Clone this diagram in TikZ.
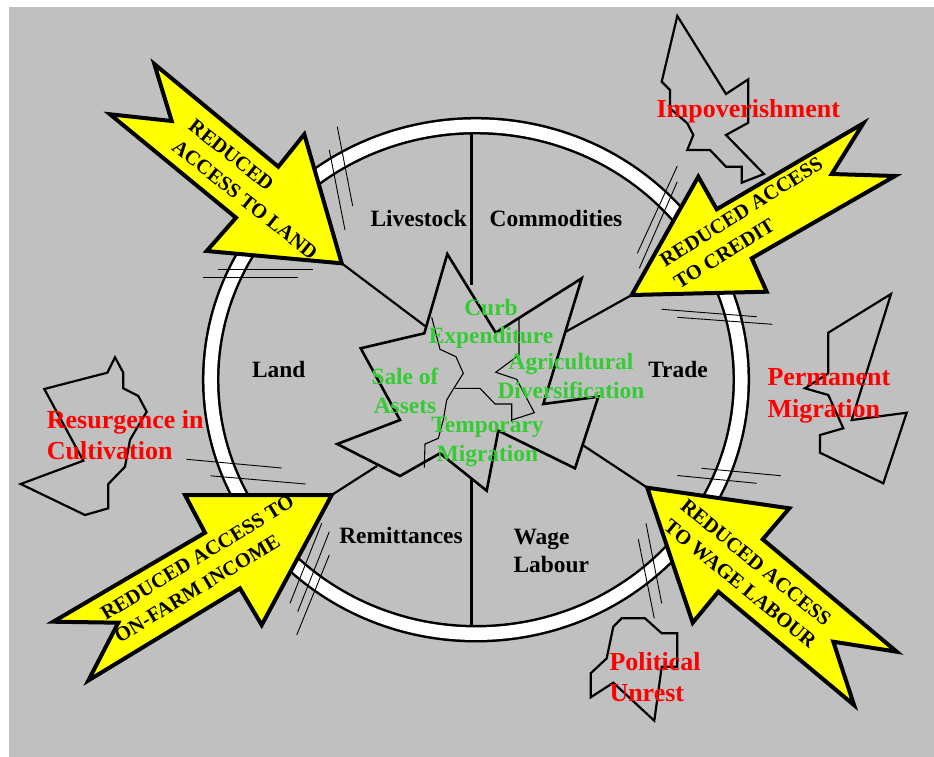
\documentclass[tikz,border=0pt]{standalone}
\usepackage{fontspec}
\setmainfont{Liberation Serif}
\definecolor{bg}{RGB}{192,192,192}
\definecolor{gtext}{RGB}{51,204,51}
\definecolor{ared}{RGB}{255,0,0}
\definecolor{ayellow}{RGB}{255,255,0}
\tikzset{
  ringblack/.style={draw=black, line width=17.5pt},
  ringwhite/.style={draw=white, line width=12.5pt},
  divider/.style={draw=black, line width=2.6pt},
  connector/.style={draw=black, line width=2.2pt},
  starline/.style={draw=black, line width=2.6pt, line join=miter, miter limit=8},
  innerline/.style={draw=black, line width=1.1pt},
  blob/.style={draw=black, line width=2.2pt, line join=miter},
  tickline/.style={draw=black, line width=0.9pt},
  bigarrow/.style={draw=black, fill=ayellow, line width=4pt, line join=miter, miter limit=6},
  lbl/.style={font=\fontsize{23.4}{28}\selectfont\bfseries, inner sep=0pt, text=black},
  greenlbl/.style={font=\fontsize{23.4}{28.5}\selectfont\bfseries, inner sep=0pt, text=gtext, align=center},
  redlbl/.style={font=\fontsize{26}{31.5}\selectfont\bfseries, inner sep=0pt, text=ared, align=left, anchor=west},
  arrowtxt/.style={font=\fontsize{20.5}{26.5}\selectfont\bfseries, inner sep=0pt, text=black, align=left},
}
\begin{document}
\begin{tikzpicture}[x=1pt,y=-1pt]
\useasboundingbox (0,0) rectangle (934,756);
\fill[white] (-5,-5) rectangle (945,765);
\fill[bg] (9,7) rectangle (945,765);

% ring
\coordinate (ringc) at (476,379.7);
\draw[ringblack] (ringc) ellipse [x radius=265.3, y radius=254];
\draw[ringwhite] (ringc) ellipse [x radius=265.3, y radius=254];

% dividers
\coordinate (dtA) at (471.7,133);
\coordinate (dtB) at (471.7,285);
\coordinate (dbA) at (471.7,473);
\coordinate (dbB) at (471.7,626);
\draw[divider] (dtA) -- (dtB);
\draw[divider] (dbA) -- (dbB);

% central star
\draw[starline, fill=bg] (447.3,254) -- (495.7,332.7) -- (581.7,278.3) -- (543.3,404)
  -- (598.3,396.7) -- (575,468.3) -- (498.3,430.7) -- (486.7,490.7) -- (440,453.3)
  -- (400,476) -- (337.3,444) -- (400,420) -- (360.7,348.3) -- (424.3,333.3) -- cycle;
\draw[innerline] (431.7,317.3) -- (440,349.3) -- (456,356.7) -- (463.3,373.3) -- (451.7,391.7)
  -- (446.7,400) -- (443.3,420) -- (438.3,438.3) -- (425,444) -- (424.3,467.7);
\draw[innerline] (455,388.3) -- (480,388.3) -- (495,404) -- (511.7,404) -- (511.7,421.7);
\draw[innerline] (519,319) -- (519,355) -- (495.7,372.3) -- (516.7,379.3) -- (534.3,412.7) -- (511.7,420);

% outline shapes
\draw[blob] (677.3,16) -- (726,94) -- (748.3,79.3) -- (748.3,122.7) -- (726,135) -- (764,174)
  -- (741.7,182.7) -- (741.7,166.7) -- (726,166.7) -- (710,150) -- (687.3,150) -- (693.3,135)
  -- (687.3,123.3) -- (670,108.3) -- (670,90) -- (661.7,81.7) -- cycle;
\draw[blob] (891,294) -- (851.7,420) -- (906.7,412.7) -- (883.3,483.3) -- (820,452.7) -- (820,435)
  -- (843.3,428.3) -- (828.3,395) -- (805,388.3) -- (828.3,373.3) -- (828.3,332.7) -- cycle;
\draw[blob] (115,357.3) -- (123.3,372.7) -- (123.3,388.3) -- (138.3,396) -- (146.7,411.7)
  -- (136.7,428.3) -- (130,440) -- (125,466.7) -- (108.3,484) -- (108.3,508.3) -- (85,515)
  -- (20.7,484) -- (83.3,460.7) -- (44.3,389) -- (107.3,372.7) -- cycle;
\draw[blob] (621.7,618.3) -- (645,618.3) -- (661.7,633.3) -- (677.3,633.3) -- (677.3,666.7)
  -- (661.7,666.7) -- (654.3,720.7) -- (613.3,682.7) -- (590.7,697.3) -- (590.7,673.3)
  -- (606.7,658.3) -- (613.3,626.7) -- cycle;

% arrow tips and star contact points
\coordinate (tipLand) at (341.7,263.3);
\coordinate (tipCredit) at (631.7,295);
\coordinate (tipFarm) at (331.7,495);
\coordinate (tipWage) at (647.3,487.7);
\coordinate (stUL) at (425,326);
\coordinate (stUR) at (565.3,332);
\coordinate (stLR) at (582.6,445);
\coordinate (stLL) at (377,466);
\draw[connector] (tipLand) -- (stUL);
\draw[connector] (tipCredit) -- (stUR);
\draw[connector] (tipWage) -- (stLR);
\draw[connector] (tipFarm) -- (stLL);

% yellow arrows
\draw[bigarrow] (tipLand) -- (206.7,251) -- (236,217.7) -- (110,114.3) -- (171.7,121)
  -- (154.3,64) -- (278.3,166.7) -- (304.3,134.3) -- cycle;
\draw[bigarrow] (tipCredit) -- (698.3,176.7) -- (716.7,209.3) -- (863.3,123.3) -- (831.7,174)
  -- (895,176) -- (751.7,258.3) -- (766.7,291.7) -- cycle;
\draw[bigarrow] (tipFarm) -- (185,495) -- (205,532.7) -- (53.3,621.7) -- (118.3,622.7)
  -- (88.4,680.4) -- (240,588.3) -- (261.7,625) -- cycle;
\draw[bigarrow] (tipWage) -- (789.3,508.3) -- (762.7,539.3) -- (896.7,651.7) -- (833.3,641.7)
  -- (854,705) -- (718.3,591.7) -- (692.7,622.7) -- cycle;

% arrow texts
\node[arrowtxt, rotate=-38.4] (tLand) at (253.3,189.4) {REDUCED\\ACCESS TO LAND};
\node[arrowtxt, rotate=32] (tCredit) at (748.3,223) {REDUCED ACCESS\\TO CREDIT};
\node[arrowtxt, rotate=31.3] (tFarm) at (204.3,568.8) {REDUCED ACCESS TO\\ON-FARM INCOME};
\node[arrowtxt, rotate=-39.4] (tWage) at (748.5,573.6) {REDUCED ACCESS\\TO WAGE LABOUR};

% tick marks
\draw[tickline] (337.3,126.7) -- (352.7,206);
\draw[tickline] (329.3,150) -- (345,230);
\draw[tickline] (218.3,269.3) -- (313.3,269.3);
\draw[tickline] (202.7,277.5) -- (297.7,277.5);
\draw[tickline] (186.7,459.3) -- (281.7,468);
\draw[tickline] (210.7,475.8) -- (305.7,484);
\draw[tickline] (321.7,523.3) -- (290,603.3);
\draw[tickline] (329.3,531.7) -- (297.7,611.7);
\draw[tickline] (329.3,555) -- (296.7,635);
\draw[tickline] (677.3,166) -- (637.3,253.3);
\draw[tickline] (677.3,181.7) -- (639.3,268.3);
\draw[tickline] (661.7,309.3) -- (756.7,316.7);
\draw[tickline] (677.3,317.3) -- (772.3,324.3);
\draw[tickline] (701.7,468.3) -- (780.7,475.7);
\draw[tickline] (677.3,475.5) -- (756.7,483.3);
\draw[tickline] (646,523.3) -- (661.7,603.3);
\draw[tickline] (638.3,539.3) -- (654.3,618.3);

% segment labels
\node[lbl] (livestock) at (418.7,218) {Livestock};
\node[lbl] (commod) at (556,218) {Commodities};
\node[lbl] (land) at (278.7,369) {Land};
\node[lbl] (trade) at (678,369) {Trade};
\node[lbl] (remit) at (401,535) {Remittances};
\node[lbl, align=left, anchor=west] (wage) at (513.3,551) {Wage\\Labour};

% green strategy labels
\node[greenlbl] (curb) at (491,324) {Curb\\Expenditure};
\node[greenlbl] (agri) at (571,376) {Agricultural\\Diversification};
\node[greenlbl] (sale) at (405,391) {Sale of\\Assets};
\node[greenlbl] (temp) at (487.5,442) {Temporary\\Migration};

% red outcome labels
\node[font=\fontsize{26}{31.5}\selectfont\bfseries, inner sep=0pt, text=ared] (impov) at (748.3,111) {Impoverishment};
\node[redlbl] (perm) at (767.3,396) {Permanent\\Migration};
\node[redlbl] (resur) at (46.7,435) {Resurgence in\\Cultivation};
\node[redlbl] (polit) at (609.3,677) {Political\\Unrest};
\end{tikzpicture}
\end{document}
